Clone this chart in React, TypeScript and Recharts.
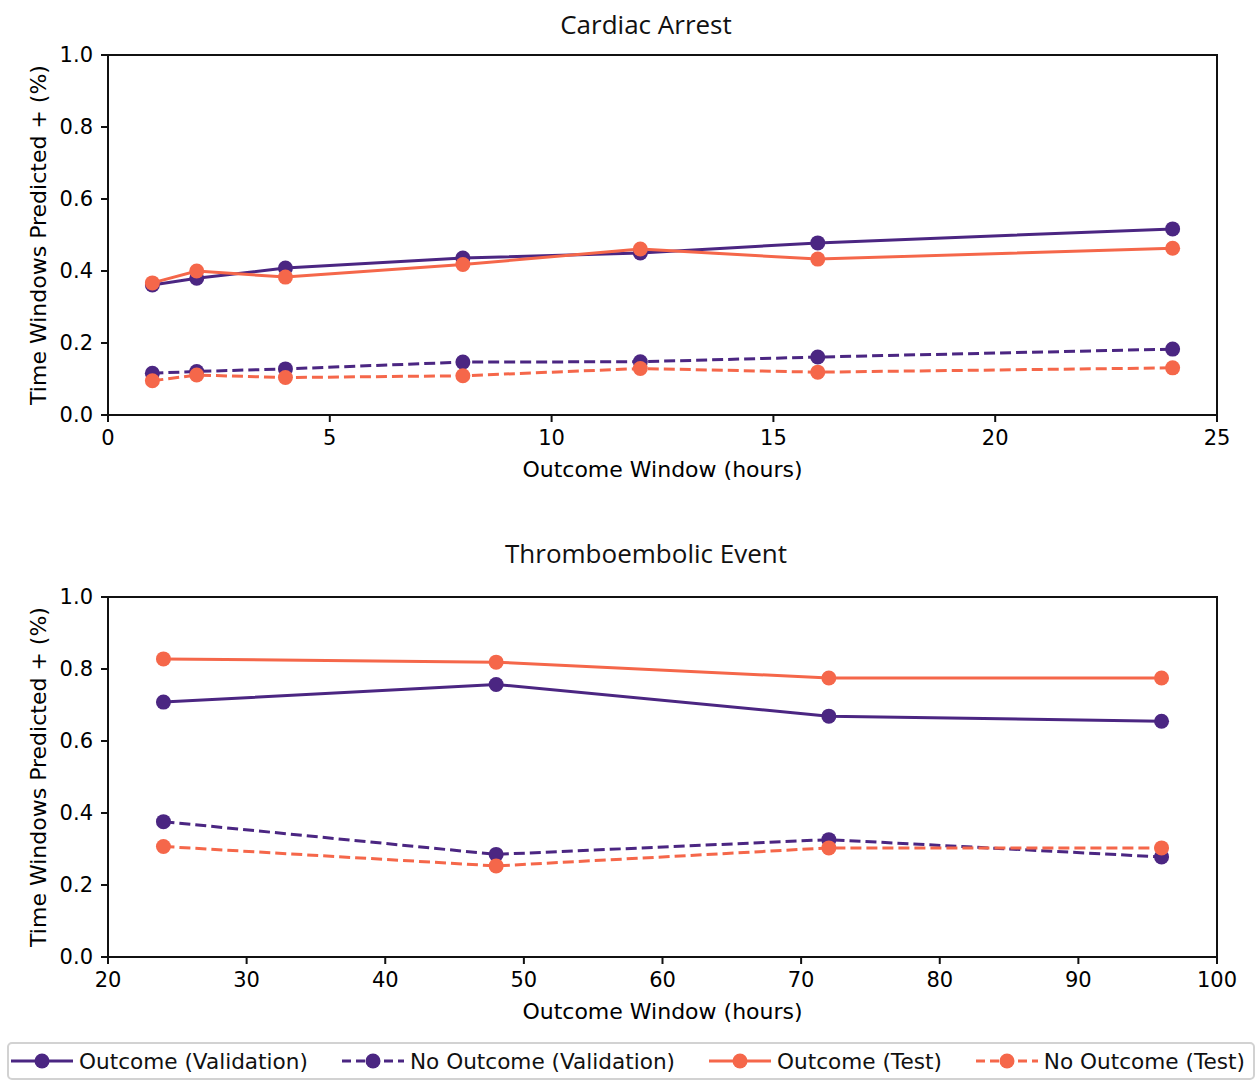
import React from 'react';
import { Line, LineChart, ReferenceArea, XAxis, YAxis } from 'recharts';

// colours
const PURPLE = '#4b2682';
const ORANGE = '#f5674a';
const FONT = '"DejaVu Sans", sans-serif';

const seriesNames = ['Outcome (Validation)', 'No Outcome (Validation)', 'Outcome (Test)', 'No Outcome (Test)'];

// Cardiac Arrest
const caHours = [1, 2, 4, 8, 12, 16, 24];
const caOutcomeVal = [0.361, 0.38, 0.408, 0.436, 0.45, 0.478, 0.517];
const caNoOutcomeVal = [0.116, 0.121, 0.128, 0.147, 0.148, 0.161, 0.183];
const caOutcomeTest = [0.367, 0.4, 0.383, 0.418, 0.461, 0.433, 0.463];
const caNoOutcomeTest = [0.095, 0.111, 0.104, 0.109, 0.129, 0.119, 0.131];
const caTicks = [0, 5, 10, 15, 20, 25];

// Thromboembolic Event
const teHours = [24, 48, 72, 96];
const teOutcomeVal = [0.708, 0.757, 0.669, 0.655];
const teNoOutcomeVal = [0.376, 0.285, 0.326, 0.278];
const teOutcomeTest = [0.828, 0.819, 0.775, 0.775];
const teNoOutcomeTest = [0.307, 0.253, 0.303, 0.303];
const teTicks = [20, 30, 40, 50, 60, 70, 80, 90, 100];

const yTicks = [0, 0.2, 0.4, 0.6, 0.8, 1.0];

const seriesStyle = [
  { key: 'ov', color: PURPLE, dash: undefined },
  { key: 'nv', color: PURPLE, dash: '11 5' },
  { key: 'ot', color: ORANGE, dash: undefined },
  { key: 'nt', color: ORANGE, dash: '11 5' },
];

const toRows = (xs: number[], ov: number[], nv: number[], ot: number[], nt: number[]) =>
  xs.map((x, i) => ({ x, ov: ov[i], nv: nv[i], ot: ot[i], nt: nt[i] }));

const caRows = toRows(caHours, caOutcomeVal, caNoOutcomeVal, caOutcomeTest, caNoOutcomeTest);
const teRows = toRows(teHours, teOutcomeVal, teNoOutcomeVal, teOutcomeTest, teNoOutcomeTest);

const tick = { fill: '#000', fontSize: 21, fontFamily: FONT };
const axisLine = { stroke: '#111', strokeWidth: 2 };

function Panel({
  rows,
  domain,
  ticks,
  title,
  top,
  titleTop,
}: {
  rows: Record<string, number>[];
  domain: [number, number];
  ticks: number[];
  title: string;
  top: number;
  titleTop: number;
}) {
  return (
    <div style={{ position: 'absolute', left: 0, top, width: 1255, height: 490 }}>
      <div
        style={{
          position: 'absolute',
          left: 446,
          width: 400,
          top: titleTop,
          textAlign: 'center',
          fontFamily: '"Open Sans", sans-serif',
          fontSize: 26,
          lineHeight: '34px',
          color: '#111',
        }}
      >
        {title}
      </div>
      <LineChart width={1255} height={490} data={rows} margin={{ top: 55, right: 38, bottom: 5, left: 20 }}>
        <XAxis
          dataKey="x"
          type="number"
          domain={domain}
          ticks={ticks}
          allowDataOverflow
          height={70}
          tick={tick}
          tickSize={7}
          tickMargin={8}
          tickLine={axisLine}
          axisLine={axisLine}
          label={({ viewBox }: any) => (
            <text
              x={viewBox.x + viewBox.width / 2}
              y={viewBox.y + 62}
              textAnchor="middle"
              fontSize={22}
              fontFamily={FONT}
              fill="#000"
            >
              Outcome Window (hours)
            </text>
          )}
        />
        <YAxis
          type="number"
          domain={[0, 1]}
          ticks={yTicks}
          width={88}
          tick={tick}
          tickSize={7}
          tickMargin={8}
          tickLine={axisLine}
          axisLine={axisLine}
          tickFormatter={(v: number) => v.toFixed(1)}
          label={({ viewBox }: any) => {
            const cx = viewBox.x + 18;
            const cy = viewBox.y + viewBox.height / 2;
            return (
              <text
                x={cx}
                y={cy}
                transform={`rotate(-90, ${cx}, ${cy})`}
                textAnchor="middle"
                dominantBaseline="central"
                fontSize={22}
                fontFamily={FONT}
                fill="#000"
              >
                Time Windows Predicted + (%)
              </text>
            );
          }}
        />
        {/* axes frame (matplotlib spines) */}
        <ReferenceArea x1={domain[0]} x2={domain[1]} y1={0} y2={1} fill="none" stroke="#111" strokeWidth={2} ifOverflow="visible" />
        {seriesStyle.map((s, i) => (
          <Line
            key={s.key}
            dataKey={s.key}
            name={seriesNames[i]}
            stroke={s.color}
            strokeWidth={3}
            strokeDasharray={s.dash}
            dot={{ r: 7.5, fill: s.color, stroke: 'none' }}
            activeDot={false}
            isAnimationActive={false}
          />
        ))}
      </LineChart>
    </div>
  );
}

function LegendBox() {
  return (
    <div
      style={{
        position: 'absolute',
        left: 7,
        top: 1042,
        width: 1242,
        height: 34,
        border: '2px solid #d2d2d2',
        borderRadius: 5,
        display: 'flex',
        alignItems: 'center',
        gap: 34,
        paddingLeft: 2,
        fontFamily: FONT,
        fontSize: 21.6,
        color: '#111',
        background: '#fff',
      }}
    >
      {seriesStyle.map((s, i) => (
        <div key={s.key} style={{ display: 'flex', alignItems: 'center', gap: 6, whiteSpace: 'nowrap' }}>
          <svg width={62} height={20}>
            <line x1={0} x2={62} y1={10} y2={10} stroke={s.color} strokeWidth={3} strokeDasharray={s.dash ? '9 5' : undefined} />
            <circle cx={31} cy={10} r={7.5} fill={s.color} />
          </svg>
          <span>{seriesNames[i]}</span>
        </div>
      ))}
    </div>
  );
}

export default function App() {
  return (
    <div style={{ position: 'absolute', left: 0, top: 0, width: 1255, height: 1080, background: '#fff' }}>
      <Panel rows={caRows} domain={[0, 25]} ticks={caTicks} title="Cardiac Arrest" top={0} titleTop={7} />
      <Panel rows={teRows} domain={[20, 100]} ticks={teTicks} title="Thromboembolic Event" top={542} titleTop={-6} />
      <LegendBox />
    </div>
  );
}
